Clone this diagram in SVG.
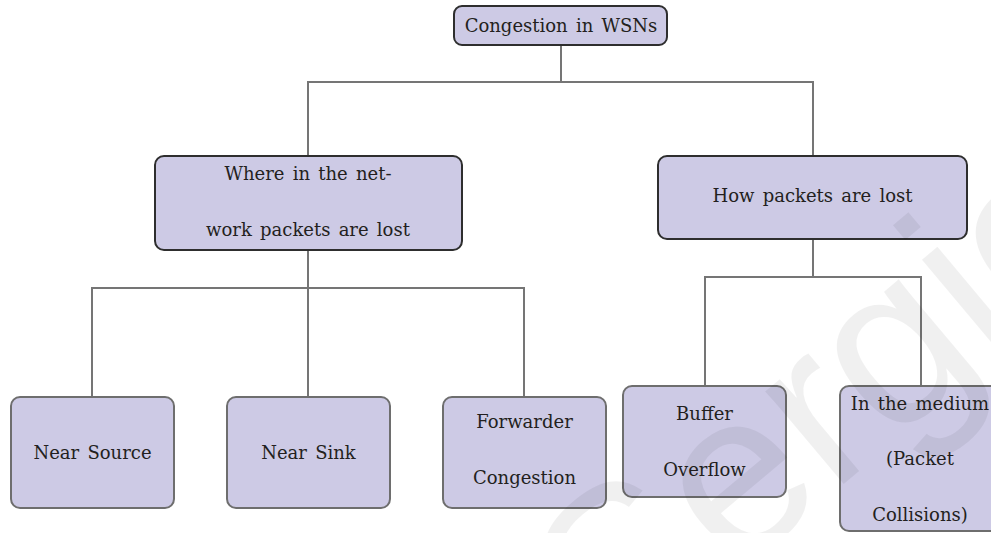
<svg xmlns="http://www.w3.org/2000/svg" width="991" height="533" viewBox="0 0 991 533">
  <style>
    .box { fill: #cdcae5; stroke-width: 2; }
    .main { stroke: #2e2e2e; }
    .leaf { stroke: #6e6e6e; }
    .lbl { font-family: 'DejaVu Serif', 'Liberation Serif', serif; font-size: 18px; fill: #231f20; text-anchor: middle; word-spacing: 2.5px; }
    .wire { fill: none; stroke: #757575; stroke-width: 2; }
    .mark { font-family: 'Liberation Sans', Arial, sans-serif; font-size: 230px; fill: #000; fill-opacity: 0.06; }
  </style>
  <rect width="991" height="533" fill="#ffffff"/>

  <!-- tree connectors -->
  <g id="connectors">
    <path class="wire" d="M561 45 V82 M308 156 V82 H813 V156"/>
    <path class="wire" d="M308 250 V397 M92 397 V288 H524 V397"/>
    <path class="wire" d="M813 239 V277 M705 386 V277 H921 V386"/>
  </g>

  <g id="root">
    <rect class="box main" x="454" y="6" width="213" height="39" rx="8"/>
    <text class="lbl" x="561" y="32">Congestion in WSNs</text>
  </g>

  <g id="where">
    <rect class="box main" x="155" y="156" width="307" height="94" rx="9"/>
    <text class="lbl" x="308" y="180">Where in the net-</text>
    <text class="lbl" x="308" y="236">work packets are lost</text>
  </g>

  <g id="how">
    <rect class="box main" x="658" y="156" width="309" height="83" rx="9"/>
    <text class="lbl" x="812.5" y="202">How packets are lost</text>
  </g>

  <g id="near-source">
    <rect class="box leaf" x="11" y="397" width="163" height="111" rx="9"/>
    <text class="lbl" x="92.5" y="459">Near Source</text>
  </g>

  <g id="near-sink">
    <rect class="box leaf" x="227" y="397" width="163" height="111" rx="9"/>
    <text class="lbl" x="308.5" y="459">Near Sink</text>
  </g>

  <g id="forwarder">
    <rect class="box leaf" x="443" y="397" width="163" height="111" rx="9"/>
    <text class="lbl" x="524.5" y="428">Forwarder</text>
    <text class="lbl" x="524.5" y="484">Congestion</text>
  </g>

  <g id="buffer">
    <rect class="box leaf" x="623" y="386" width="163" height="111" rx="9"/>
    <text class="lbl" x="704.5" y="420">Buffer</text>
    <text class="lbl" x="704.5" y="476">Overflow</text>
  </g>

  <g id="medium">
    <rect class="box leaf" x="840" y="386" width="163" height="145" rx="9"/>
    <text class="lbl" x="920" y="410">In the medium</text>
    <text class="lbl" x="920" y="465">(Packet</text>
    <text class="lbl" x="920" y="521">Collisions)</text>
  </g>

  <!-- faint diagonal watermark -->
  <text class="mark" x="0" y="0" transform="translate(616 675) rotate(-40)">Sergio</text>
</svg>
